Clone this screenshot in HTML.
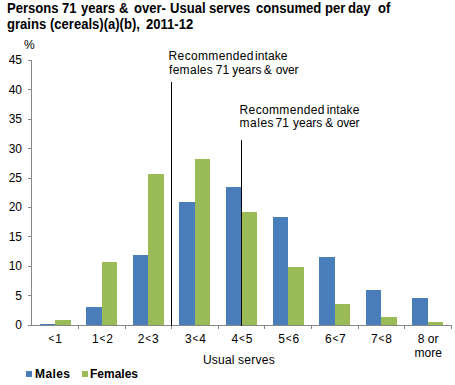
<!DOCTYPE html>
<html><head><meta charset="utf-8"><style>
html,body{margin:0;padding:0;background:#fff;width:455px;height:385px;overflow:hidden}
body{position:relative;font-family:"Liberation Sans",sans-serif;color:#000}
.r{letter-spacing:0.4px;word-spacing:-2.3px}
svg{position:absolute;left:0;top:0}
.t{position:absolute;font-weight:bold;font-size:14px;line-height:16px;white-space:nowrap;word-spacing:0.82px;transform:scaleX(0.932);transform-origin:0 0}
.yl{position:absolute;left:0;width:22px;text-align:right;font-size:12px;line-height:15px}
.xl{position:absolute;top:332px;width:60px;text-align:center;font-size:12px;line-height:14px}
.lt{font-size:10px;margin:0 0.8px;position:relative;top:-1px}
.ann{position:absolute;font-size:12px;line-height:13px;white-space:nowrap}
.pct{position:absolute;left:24px;top:38px;font-size:12px;line-height:15px}
.xt{position:absolute;left:203px;top:353px;font-size:12px;line-height:15px;white-space:nowrap}
.lg{position:absolute;top:367px;font-size:12px;font-weight:bold;line-height:15px;white-space:nowrap}
.sq{position:absolute;top:371px;width:6px;height:6px}
</style></head><body>
<div class="t" style="left:7.40px;top:0px">Persons</div>
<div class="t" style="left:61.70px;top:0px">71</div>
<div class="t" style="left:80.90px;top:0px">years</div>
<div class="t" style="left:118.90px;top:0px">&amp;</div>
<div class="t" style="left:133.60px;top:0px">over-</div>
<div class="t" style="left:169.90px;top:0px">Usual</div>
<div class="t" style="left:208.80px;top:0px">serves</div>
<div class="t" style="left:255.60px;top:0px">consumed</div>
<div class="t" style="left:324.80px;top:0px">per</div>
<div class="t" style="left:348.20px;top:0px">day</div>
<div class="t" style="left:377.50px;top:0px">of</div>
<div class="t" style="left:6.70px;top:16px">grains</div>
<div class="t" style="left:50.00px;top:16px">(cereals)(a)(b),</div>
<div class="t" style="left:145.60px;top:16px">2011-12</div>
<div class="pct">%</div>
<svg width="455" height="385" viewBox="0 0 455 385">
<rect x="40" y="324" width="15" height="1" fill="#4A7EBB"/>
<rect x="55" y="320" width="16" height="5" fill="#9BBB59"/>
<rect x="86" y="307" width="16" height="18" fill="#4A7EBB"/>
<rect x="102" y="262" width="15" height="63" fill="#9BBB59"/>
<rect x="133" y="255" width="15" height="70" fill="#4A7EBB"/>
<rect x="148" y="174" width="16" height="151" fill="#9BBB59"/>
<rect x="179" y="202" width="16" height="123" fill="#4A7EBB"/>
<rect x="195" y="159" width="15" height="166" fill="#9BBB59"/>
<rect x="226" y="187" width="16" height="138" fill="#4A7EBB"/>
<rect x="242" y="212" width="15" height="113" fill="#9BBB59"/>
<rect x="273" y="217" width="15" height="108" fill="#4A7EBB"/>
<rect x="288" y="267" width="16" height="58" fill="#9BBB59"/>
<rect x="319" y="257" width="16" height="68" fill="#4A7EBB"/>
<rect x="335" y="304" width="15" height="21" fill="#9BBB59"/>
<rect x="366" y="290" width="15" height="35" fill="#4A7EBB"/>
<rect x="381" y="317" width="16" height="8" fill="#9BBB59"/>
<rect x="412" y="298" width="16" height="27" fill="#4A7EBB"/>
<rect x="428" y="322" width="15" height="3" fill="#9BBB59"/>
<path d="M31.5 60 V325.5 M28 325.5 H452" stroke="#868686" stroke-width="1" fill="none"/>
<path d="M28 325.5 H31.5 M28 295.5 H31.5 M28 266.5 H31.5 M28 236.5 H31.5 M28 207.5 H31.5 M28 178.5 H31.5 M28 148.5 H31.5 M28 119.5 H31.5 M28 89.5 H31.5 M28 60.5 H31.5 M78.5 325.5 V329 M125.5 325.5 V329 M171.5 325.5 V329 M218.5 325.5 V329 M264.5 325.5 V329 M311.5 325.5 V329 M358.5 325.5 V329 M404.5 325.5 V329 M451.5 325.5 V329" stroke="#868686" stroke-width="1" fill="none"/>
<path d="M171.5 82 V326 M241.5 140 V326" stroke="#000" stroke-width="1" fill="none"/>
</svg>
<div class="yl" style="top:317.75px">0</div>
<div class="yl" style="top:288.75px">5</div>
<div class="yl" style="top:258.75px">10</div>
<div class="yl" style="top:229.75px">15</div>
<div class="yl" style="top:199.75px">20</div>
<div class="yl" style="top:170.75px">25</div>
<div class="yl" style="top:141.75px">30</div>
<div class="yl" style="top:111.75px">35</div>
<div class="yl" style="top:82.75px">40</div>
<div class="yl" style="top:52.75px">45</div>
<div class="xl" style="left:24.8px"><span class="lt">&lt;</span>1</div>
<div class="xl" style="left:72.5px">1<span class="lt">&lt;</span>2</div>
<div class="xl" style="left:118.2px">2<span class="lt">&lt;</span>3</div>
<div class="xl" style="left:165.5px">3<span class="lt">&lt;</span>4</div>
<div class="xl" style="left:212.0px">4<span class="lt">&lt;</span>5</div>
<div class="xl" style="left:258.7px">5<span class="lt">&lt;</span>6</div>
<div class="xl" style="left:305.3px">6<span class="lt">&lt;</span>7</div>
<div class="xl" style="left:351.5px">7<span class="lt">&lt;</span>8</div>
<div class="xl" style="left:398.2px">8 or<br>more</div>
<div class="ann" style="left:168.6px;top:50px;letter-spacing:0.35px">Recommended</div>
<div class="ann" style="left:255px;top:50px;letter-spacing:0.1px">intake</div>
<div class="ann" style="left:169px;top:64px;letter-spacing:0.3px">females</div>
<div class="ann" style="left:215.8px;top:64px;letter-spacing:0px">71</div>
<div class="ann" style="left:232.2px;top:64px;letter-spacing:0px">years</div>
<div class="ann" style="left:263.7px;top:64px;letter-spacing:0px">&amp;</div>
<div class="ann" style="left:275.8px;top:64px;letter-spacing:-0.2px">over</div>
<div class="ann" style="left:239.6px;top:104.2px;letter-spacing:0.35px">Recommended</div>
<div class="ann" style="left:326.8px;top:104.2px;letter-spacing:0.1px">intake</div>
<div class="ann" style="left:239.6px;top:117.2px;letter-spacing:0.5px">males</div>
<div class="ann" style="left:275.6px;top:117.2px;letter-spacing:0px">71</div>
<div class="ann" style="left:293px;top:117.2px;letter-spacing:0px">years</div>
<div class="ann" style="left:325.3px;top:117.2px;letter-spacing:0px">&amp;</div>
<div class="ann" style="left:336.8px;top:117.2px;letter-spacing:-0.2px">over</div>

<div class="xt" style="letter-spacing:0.2px">Usual</div><div class="xt" style="left:238px;letter-spacing:0.3px">serves</div>
<div class="sq" style="left:26px;background:#4A7EBB"></div>
<div class="lg" style="left:35px;letter-spacing:0.4px">Males</div>
<div class="sq" style="left:82px;background:#9BBB59"></div>
<div class="lg" style="left:90px">Females</div>
</body></html>
